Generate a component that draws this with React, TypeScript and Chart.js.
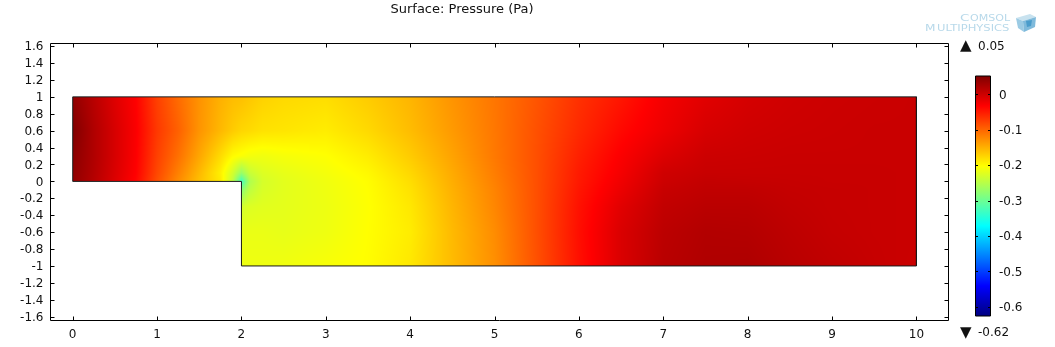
import React, { useEffect, useRef } from "react";
import { Chart, registerables } from "chart.js";

Chart.register(...registerables);

const FONT = "'DejaVu Sans', sans-serif";
const titleText = "Surface: Pressure (Pa)";
const xTickStep = 1;
const yTickStep = 0.2;
const xRange = [-0.263, 10.38];
const yRange = [-1.645, 1.631];

// Boundary of the backward-facing step
const outlineX = [0, 0, 10, 10, 2, 2, 0];
const outlineY = [0, 1, 1, -1, -1, 0, 0];

// Pressure at grid nodes
const xNodes = [0, 0.25, 0.5, 0.75, 1, 1.25, 1.5, 1.75, 1.9, 2, 2.1, 2.25, 2.5, 3, 3.5, 4, 4.5, 5, 5.5, 6, 6.5, 7, 7.5, 8, 8.5, 9, 9.5, 10];
const yNodes = [-1, -0.6, -0.3, -0.1, 0, 0.1, 0.3, 0.6, 1];
const _ = null;
const pAtYm10 = [_, _, _, _, _, _, _, _, _, -0.214, -0.213, -0.213, -0.212, -0.207, -0.201, -0.187, -0.157, -0.128, -0.086, -0.043, -0.008, 0.014, 0.02, 0.021, 0.014, 0.009, 0.005, 0.002];
const pAtYm06 = [_, _, _, _, _, _, _, _, _, -0.218, -0.216, -0.216, -0.218, -0.213, -0.202, -0.19, -0.156, -0.126, -0.085, -0.042, -0.008, 0.012, 0.018, 0.017, 0.011, 0.006, 0.004, 0.003];
const pAtYm03 = [_, _, _, _, _, _, _, _, _, -0.232, -0.225, -0.222, -0.22, -0.214, -0.203, -0.187, -0.153, -0.122, -0.085, -0.044, -0.013, 0.008, 0.013, 0.013, 0.008, 0.005, 0.004, 0.003];
const pAtYm01 = [_, _, _, _, _, _, _, _, _, -0.28, -0.245, -0.228, -0.221, -0.213, -0.202, -0.183, -0.15, -0.12, -0.085, -0.047, -0.02, 0.004, 0.009, 0.009, 0.006, 0.005, 0.004, 0.003];
const pAtY00 = [0.04, 0.016, -0.01, -0.036, -0.085, -0.125, -0.16, -0.188, -0.245, -0.33, -0.255, -0.23, -0.221, -0.212, -0.201, -0.18, -0.148, -0.118, -0.085, -0.049, -0.023, 0.001, 0.007, 0.006, 0.005, 0.004, 0.004, 0.003];
const pAtY01 = [0.042, 0.018, -0.008, -0.033, -0.08, -0.118, -0.155, -0.192, -0.232, -0.27, -0.239, -0.225, -0.218, -0.209, -0.198, -0.176, -0.146, -0.116, -0.085, -0.05, -0.026, -0.001, 0.004, 0.004, 0.004, 0.004, 0.004, 0.003];
const pAtY03 = [0.045, 0.02, -0.006, -0.031, -0.075, -0.107, -0.143, -0.178, -0.2, -0.205, -0.21, -0.212, -0.208, -0.203, -0.19, -0.168, -0.141, -0.113, -0.085, -0.054, -0.03, -0.01, 0.001, 0.002, 0.003, 0.003, 0.003, 0.003];
const pAtY06 = [0.052, 0.02, -0.006, -0.03, -0.07, -0.097, -0.131, -0.155, -0.168, -0.175, -0.178, -0.183, -0.185, -0.19, -0.177, -0.158, -0.135, -0.112, -0.086, -0.06, -0.038, -0.021, -0.006, -0.001, 0.001, 0.002, 0.003, 0.003];
const pAtY10 = [0.04, 0.014, -0.011, -0.033, -0.075, -0.104, -0.13, -0.15, -0.158, -0.16, -0.165, -0.172, -0.177, -0.18, -0.168, -0.153, -0.131, -0.111, -0.089, -0.065, -0.047, -0.026, -0.013, -0.005, -0.001, 0.001, 0.002, 0.003];
const pressureRows = [pAtYm10, pAtYm06, pAtYm03, pAtYm01, pAtY00, pAtY01, pAtY03, pAtY06, pAtY10];

// Colour range
const colorMin = -0.626;
const colorMax = 0.052;
const maxLabel = "0.05";
const minLabel = "-0.62";
const colorTicks = [0, -0.1, -0.2, -0.3, -0.4, -0.5, -0.6];

const clamp01 = (v: number) => Math.max(0, Math.min(1, v));
function jet(t: number): [number, number, number] {
  return [
    clamp01(1.5 - Math.abs(4 * t - 3)) * 255,
    clamp01(1.5 - Math.abs(4 * t - 2)) * 255,
    clamp01(1.5 - Math.abs(4 * t - 1)) * 255,
  ];
}

function segment(nodes: number[], v: number) {
  let i = 0;
  while (i < nodes.length - 2 && v > nodes[i + 1]) i++;
  return i;
}

function pressureAt(x: number, y: number): number | null {
  if (x < 0 || x > 10 || y < -1 || y > 1 || (x < 2 && y < 0)) return null;
  const i = segment(xNodes, x);
  const j = segment(yNodes, y);
  const tx = (x - xNodes[i]) / (xNodes[i + 1] - xNodes[i]);
  const ty = (y - yNodes[j]) / (yNodes[j + 1] - yNodes[j]);
  const a = pressureRows[j][i];
  const b = pressureRows[j][i + 1];
  const c = pressureRows[j + 1][i];
  const d = pressureRows[j + 1][i + 1];
  if (a === null || b === null || c === null || d === null) return null;
  return (a * (1 - tx) + b * tx) * (1 - ty) + (c * (1 - tx) + d * tx) * ty;
}

const surfacePlugin = {
  id: "surface",
  afterLayout(chart: any) {
    if (chart.titleBlock) chart.titleBlock.right = 924;
  },
  beforeDatasetsDraw(chart: any) {
    const { ctx, chartArea, scales } = chart;
    const left = Math.floor(chartArea.left);
    const top = Math.floor(chartArea.top);
    const w = Math.ceil(chartArea.right) - left;
    const h = Math.ceil(chartArea.bottom) - top;
    const off = document.createElement("canvas");
    off.width = w;
    off.height = h;
    const octx = off.getContext("2d")!;
    const img = octx.createImageData(w, h);
    for (let py = 0; py < h; py++) {
      const y = scales.y.getValueForPixel(top + py + 0.5);
      for (let px = 0; px < w; px++) {
        const x = scales.x.getValueForPixel(left + px + 0.5);
        const p = pressureAt(x, y);
        if (p === null) continue;
        const [r, g, b] = jet((p - colorMin) / (colorMax - colorMin));
        const k = (py * w + px) * 4;
        img.data[k] = r;
        img.data[k + 1] = g;
        img.data[k + 2] = b;
        img.data[k + 3] = 255;
      }
    }
    octx.putImageData(img, 0, 0);
    ctx.drawImage(off, left, top);
  },
  afterDraw(chart: any) {
    const { ctx, chartArea: a, scales } = chart;
    ctx.save();
    ctx.strokeStyle = "#000";
    ctx.lineWidth = 1;
    ctx.beginPath();
    ctx.rect(a.left, a.top, a.right - a.left, a.bottom - a.top);
    const len = 4;
    for (const t of scales.x.ticks) {
      const p = Math.round(scales.x.getPixelForValue(t.value)) + 0.5;
      ctx.moveTo(p, a.top);
      ctx.lineTo(p, a.top + len);
      ctx.moveTo(p, a.bottom);
      ctx.lineTo(p, a.bottom - len);
    }
    for (const t of scales.y.ticks) {
      const p = Math.round(scales.y.getPixelForValue(t.value)) + 0.5;
      ctx.moveTo(a.left, p);
      ctx.lineTo(a.left + len, p);
      ctx.moveTo(a.right, p);
      ctx.lineTo(a.right - len, p);
    }
    ctx.stroke();

    // Product mark at the top right
    ctx.fillStyle = "#b8d9ea";
    ctx.textBaseline = "alphabetic";
    const wide = (text: string, x: number, y: number, size: number, sx: number) => {
      ctx.save();
      ctx.translate(x, y);
      ctx.scale(sx, 1);
      ctx.font = `${size}px ${FONT}`;
      ctx.fillText(text, 0, 0);
      ctx.restore();
    };
    wide("C", 960, 21, 9, 1.5);
    wide("OMSOL", 970, 21, 8, 1.38);
    wide("M", 925, 31, 9, 1.35);
    wide("ULTIPHYSICS", 937, 31, 8, 1.44);
    const cube = (pts: number[][], fill: string) => {
      ctx.fillStyle = fill;
      ctx.beginPath();
      pts.forEach((q, i) => (i ? ctx.lineTo(q[0], q[1]) : ctx.moveTo(q[0], q[1])));
      ctx.closePath();
      ctx.fill();
    };
    cube([[1016, 18], [1030, 14], [1036, 17], [1023, 21]], "#c8e2ef");
    cube([[1016, 18], [1023, 21], [1024, 32], [1018, 28]], "#9ccbe4");
    cube([[1023, 21], [1036, 17], [1035, 27], [1024, 32]], "#7fbadb");
    cube([[1026, 21], [1032, 20], [1031, 26], [1027, 27]], "#4a9ccb");
    ctx.restore();
  },
};

const colorbarPlugin = {
  id: "colorbarMarks",
  afterDraw(chart: any) {
    const { ctx, chartArea: a, scales } = chart;
    ctx.save();
    ctx.strokeStyle = "#000";
    ctx.lineWidth = 1;
    ctx.beginPath();
    ctx.rect(a.left + 0.5, a.top, a.right - a.left - 1, a.bottom - a.top);
    for (const t of scales.y.ticks) {
      const p = Math.round(scales.y.getPixelForValue(t.value)) + 0.5;
      ctx.moveTo(a.left, p);
      ctx.lineTo(a.left + 3, p);
      ctx.moveTo(a.right, p);
      ctx.lineTo(a.right - 3, p);
    }
    ctx.stroke();
    ctx.fillStyle = "#111";
    ctx.textBaseline = "middle";
    ctx.textAlign = "left";
    ctx.font = `15px ${FONT}`;
    ctx.fillText("\u25B2", 5, 46);
    ctx.fillText("\u25BC", 5, 333);
    ctx.font = `12px ${FONT}`;
    ctx.fillText(maxLabel, 23, 47);
    ctx.fillText(minLabel, 23, 333);
    ctx.restore();
  },
};

const tickFormat = (v: any) => String(+Number(v).toFixed(1));

export default function App() {
  const mainRef = useRef<HTMLCanvasElement>(null);
  const barRef = useRef<HTMLCanvasElement>(null);

  useEffect(() => {
    const main = new Chart(mainRef.current!, {
      type: "scatter",
      data: {
        datasets: [
          {
            label: "Pressure (Pa)",
            data: outlineX.map((x, i) => ({ x, y: outlineY[i] })),
            showLine: true,
            borderColor: "#1a1a1a",
            borderWidth: 1,
            pointRadius: 0,
            tension: 0,
          },
        ],
      },
      plugins: [surfacePlugin],
      options: {
        animation: false,
        responsive: false,
        layout: { padding: { left: 0, top: 0, right: 106.5, bottom: 0 } },
        plugins: {
          legend: { display: false },
          tooltip: { enabled: false },
          title: {
            display: true,
            text: titleText,
            color: "#111",
            font: { family: FONT, size: 13, weight: "normal", lineHeight: 1.2 },
            padding: { top: 1.5, bottom: 26.4 },
          },
        },
        scales: {
          x: {
            type: "linear",
            min: xRange[0],
            max: xRange[1],
            afterFit: (s: any) => { s.height = 26.5; },
            grid: { display: false, drawTicks: false },
            border: { display: false },
            ticks: {
              stepSize: xTickStep,
              includeBounds: false,
              autoSkip: false,
              maxRotation: 0,
              padding: 7,
              color: "#111",
              font: { family: FONT, size: 12 },
              callback: tickFormat,
            },
          },
          y: {
            type: "linear",
            min: yRange[0],
            max: yRange[1],
            afterFit: (s: any) => { s.width = 50.5; },
            grid: { display: false, drawTicks: false },
            border: { display: false },
            ticks: {
              stepSize: yTickStep,
              includeBounds: false,
              autoSkip: false,
              padding: 7,
              labelOffset: 1,
              color: "#111",
              font: { family: FONT, size: 12 },
              callback: tickFormat,
            },
          },
        },
      } as any,
    });

    const bar = new Chart(barRef.current!, {
      type: "bar",
      data: {
        labels: ["Pressure"],
        datasets: [
          {
            data: [[colorMin, colorMax]] as any,
            categoryPercentage: 1,
            barPercentage: 1,
            backgroundColor: (c: any) => {
              const { ctx, chartArea } = c.chart;
              if (!chartArea) return "#000";
              const g = ctx.createLinearGradient(0, chartArea.bottom, 0, chartArea.top);
              for (let i = 0; i <= 8; i++) {
                const [r, gg, b] = jet(i / 8);
                g.addColorStop(i / 8, `rgb(${r},${gg},${b})`);
              }
              return g;
            },
          },
        ],
      },
      plugins: [colorbarPlugin],
      options: {
        animation: false,
        responsive: false,
        layout: { padding: { left: 20, top: 76, right: 0, bottom: 31 } },
        plugins: { legend: { display: false }, tooltip: { enabled: false } },
        scales: {
          x: { display: false },
          y: {
            position: "right",
            min: colorMin,
            max: colorMax,
            afterFit: (s: any) => { s.width = 64; },
            afterBuildTicks: (s: any) => { s.ticks = colorTicks.map((value) => ({ value })); },
            grid: { display: false, drawTicks: false },
            border: { display: false },
            ticks: {
              autoSkip: false,
              padding: 8,
              labelOffset: 1,
              color: "#111",
              font: { family: FONT, size: 12 },
              callback: tickFormat,
            },
          },
        },
      } as any,
    });

    return () => {
      main.destroy();
      bar.destroy();
    };
  }, []);

  return (
    <div style={{ position: "absolute", left: 0, top: 0, width: 1055, height: 347, background: "#fff", overflow: "hidden" }}>
      <canvas ref={mainRef} width={1055} height={347} style={{ position: "absolute", left: 0, top: 0, display: "block" }} />
      <canvas ref={barRef} width={100} height={347} style={{ position: "absolute", left: 955, top: 0, display: "block" }} />
    </div>
  );
}
